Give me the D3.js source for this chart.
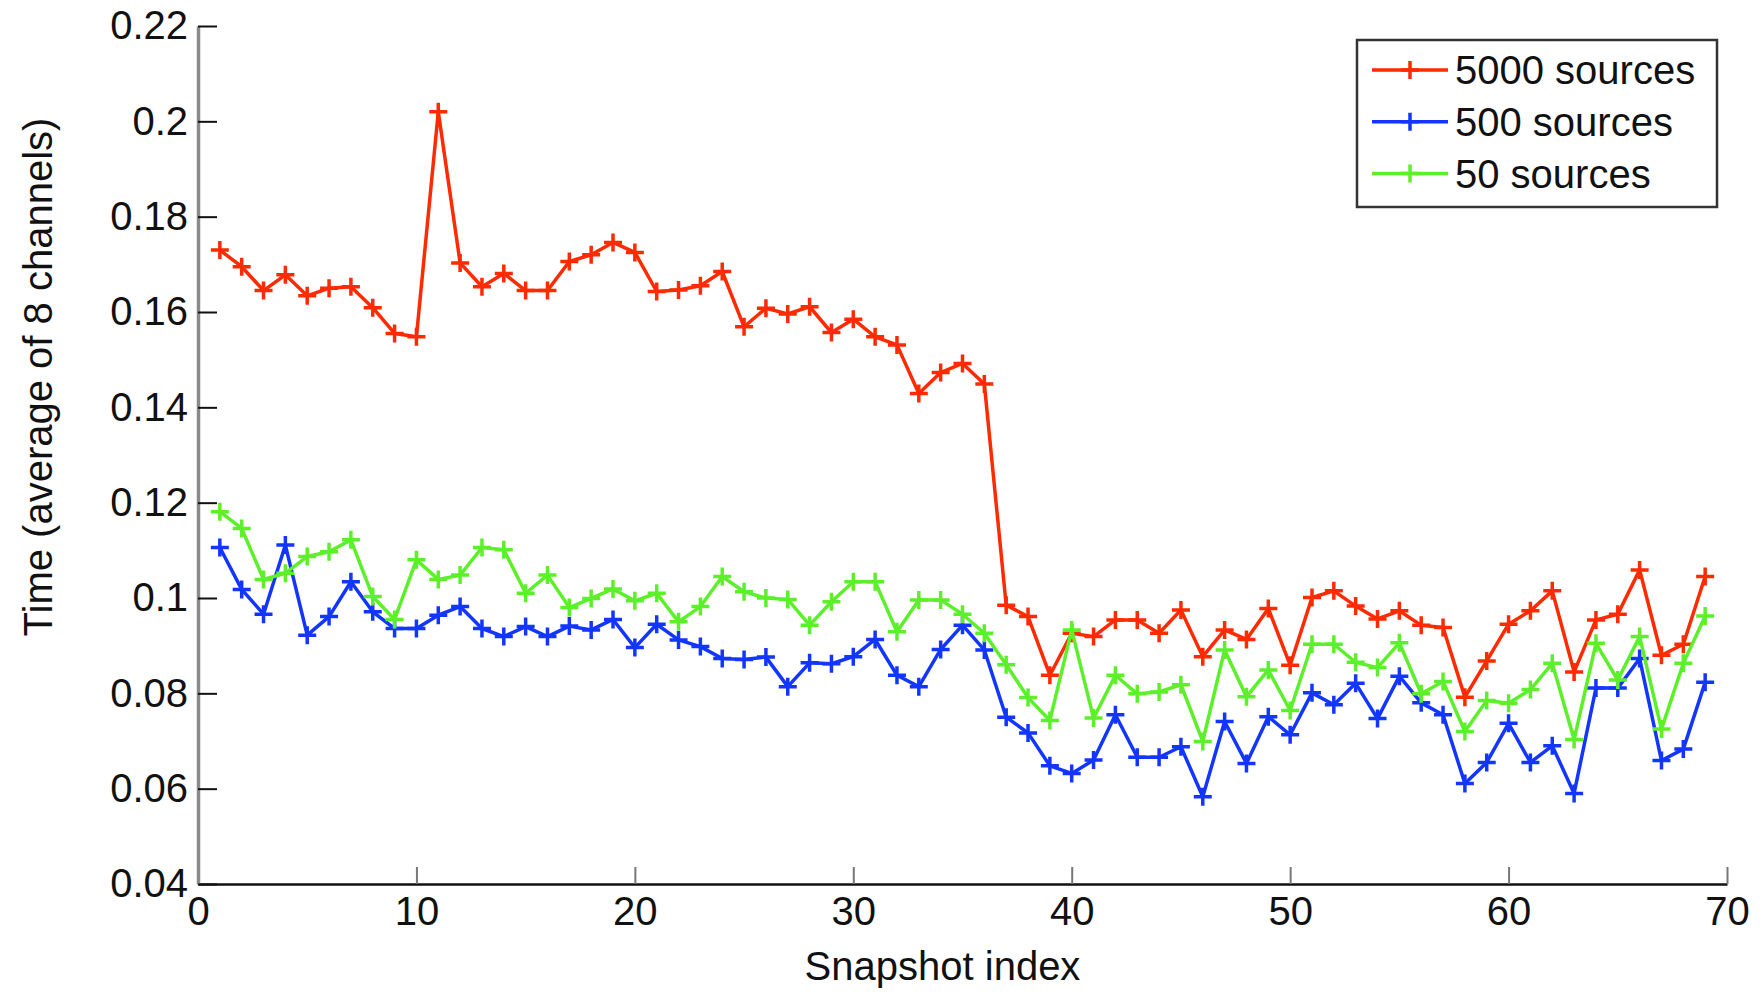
<!DOCTYPE html>
<html>
<head>
<meta charset="utf-8">
<script src="https://cdn.jsdelivr.net/npm/d3@7"></script>
<style>
  body { margin: 0; background: #fff; }
  text { font-family: "Liberation Sans", Arial, sans-serif; }
</style>
</head>
<body>
<div class="canvas"></div>
<script>
// values, snapshot index 1..69
const src5000 = [0.1730, 0.1695, 0.1645, 0.1678, 0.1634, 0.1650, 0.1653, 0.1609, 0.1555, 0.1548,
  0.2020, 0.1703, 0.1653, 0.1681, 0.1645, 0.1645, 0.1706, 0.1720, 0.1746, 0.1725,
  0.1643, 0.1646, 0.1655, 0.1685, 0.1569, 0.1608, 0.1596, 0.1611, 0.1557, 0.1585,
  0.1548, 0.1531, 0.1429, 0.1473, 0.1492, 0.1449, 0.0985, 0.0961, 0.0838, 0.0926,
  0.0919, 0.0954, 0.0954, 0.0926, 0.0975, 0.0877, 0.0933, 0.0913, 0.0978, 0.0859,
  0.1001, 0.1015, 0.0983, 0.0956, 0.0973, 0.0943, 0.0938, 0.0792, 0.0868, 0.0945,
  0.0973, 0.1015, 0.0845, 0.0954, 0.0966, 0.1059, 0.0880, 0.0903, 0.1045];

const src500 = [0.1106, 0.1018, 0.0966, 0.1111, 0.0922, 0.0961, 0.1034, 0.0971, 0.0936, 0.0936,
  0.0964, 0.0982, 0.0936, 0.0919, 0.0940, 0.0919, 0.0941, 0.0933, 0.0955, 0.0896,
  0.0945, 0.0912, 0.0898, 0.0873, 0.0871, 0.0876, 0.0814, 0.0864, 0.0862, 0.0877,
  0.0913, 0.0838, 0.0814, 0.0892, 0.0943, 0.0891, 0.0750, 0.0717, 0.0648, 0.0632,
  0.0660, 0.0755, 0.0666, 0.0666, 0.0688, 0.0583, 0.0741, 0.0653, 0.0751, 0.0713,
  0.0801, 0.0776, 0.0821, 0.0747, 0.0836, 0.0780, 0.0755, 0.0611, 0.0655, 0.0737,
  0.0655, 0.0690, 0.0590, 0.0811, 0.0811, 0.0873, 0.0659, 0.0683, 0.0823];

const src50 = [0.1181, 0.1146, 0.1039, 0.1052, 0.1087, 0.1097, 0.1122, 0.1003, 0.0955, 0.1080,
  0.1039, 0.1048, 0.1106, 0.1101, 0.1010, 0.1048, 0.0980, 0.0999, 0.1019, 0.0994,
  0.1010, 0.0950, 0.0982, 0.1045, 0.1013, 0.1000, 0.0997, 0.0943, 0.0992, 0.1034,
  0.1034, 0.0929, 0.0996, 0.0996, 0.0966, 0.0926, 0.0860, 0.0791, 0.0743, 0.0933,
  0.0748, 0.0838, 0.0799, 0.0803, 0.0818, 0.0699, 0.0891, 0.0793, 0.0849, 0.0764,
  0.0903, 0.0903, 0.0865, 0.0854, 0.0906, 0.0799, 0.0825, 0.0720, 0.0785, 0.0779,
  0.0808, 0.0863, 0.0703, 0.0905, 0.0828, 0.0919, 0.0725, 0.0863, 0.0962];

const seriesNames = ["5000 sources", "500 sources", "50 sources"];
const seriesColors = ["#ff2a00", "#1236ff", "#5cf02a"];
const xTicks = [0, 10, 20, 30, 40, 50, 60, 70];
const yTicks = [0.04, 0.06, 0.08, 0.1, 0.12, 0.14, 0.16, 0.18, 0.2, 0.22];
const yTickLabels = ["0.04", "0.06", "0.08", "0.1", "0.12", "0.14", "0.16", "0.18", "0.2", "0.22"];

const width = 1763;
const height = 992;
const plotLeft = 198, plotRight = 1727, plotTop = 26, plotBottom = 884;
const fontSize = 40;

const svg = d3.select(".canvas").append("svg")
  .attr("width", width)
  .attr("height", height);

const x = d3.scaleLinear().domain([0, 70]).range([plotLeft, plotRight]);
const y = d3.scaleLinear().domain([0.04, 0.22]).range([plotBottom, plotTop]);

// axes, matlab style ticks pointing inward
const xAxis = svg.append("g")
  .attr("transform", `translate(0,${plotBottom})`)
  .call(d3.axisBottom(x).tickValues(xTicks).tickSizeInner(-17).tickSizeOuter(0).tickPadding(13));
xAxis.select(".domain").attr("stroke", "#111").attr("stroke-width", 2.5);
xAxis.selectAll(".tick line").attr("stroke", "#777").attr("stroke-width", 2);
xAxis.selectAll("text").attr("font-size", fontSize).attr("fill", "#111");

const yAxis = svg.append("g")
  .attr("transform", `translate(${plotLeft},0)`)
  .call(d3.axisLeft(y).tickValues(yTicks)
    .tickFormat((d, i) => yTickLabels[i])
    .tickSizeInner(-19).tickSizeOuter(0).tickPadding(10));
yAxis.select(".domain").attr("stroke", "#8a8a8a").attr("stroke-width", 3.5);
yAxis.selectAll(".tick line").attr("stroke", "#111").attr("stroke-width", 2);
yAxis.selectAll("text").attr("font-size", fontSize).attr("fill", "#111");

// axis titles
svg.append("text")
  .attr("x", (plotLeft + plotRight) / 2 - 20)
  .attr("y", 980)
  .attr("text-anchor", "middle")
  .attr("font-size", fontSize)
  .attr("fill", "#111")
  .text("Snapshot index");

svg.append("text")
  .attr("transform", `translate(52,${(plotTop + plotBottom) / 2 - 78}) rotate(-90)`)
  .attr("text-anchor", "middle")
  .attr("font-size", fontSize)
  .attr("fill", "#111")
  .text("Time (average of 8 channels)");

// lines + '+' markers
const allSeries = [src5000, src500, src50];
const line = d3.line()
  .x((d, i) => x(i + 1))
  .y(d => y(d));
const plus = "M-9,0H9M0,-9V9";

allSeries.forEach((values, k) => {
  svg.append("path")
    .datum(values)
    .attr("fill", "none")
    .attr("stroke", seriesColors[k])
    .attr("stroke-width", 3.5)
    .attr("stroke-linejoin", "round")
    .attr("d", line);

  svg.append("g").selectAll("path")
    .data(values)
    .join("path")
    .attr("transform", (d, i) => `translate(${x(i + 1)},${y(d)})`)
    .attr("d", plus)
    .attr("stroke", seriesColors[k])
    .attr("stroke-width", 3.5);
});

// legend
const legend = svg.append("g").attr("transform", "translate(1357,40)");
legend.append("rect")
  .attr("width", 360)
  .attr("height", 167)
  .attr("fill", "#fff")
  .attr("stroke", "#333")
  .attr("stroke-width", 2.5);

seriesNames.forEach((name, k) => {
  const ly = 30 + k * 51.7;
  legend.append("line")
    .attr("x1", 15).attr("x2", 91)
    .attr("y1", ly).attr("y2", ly)
    .attr("stroke", seriesColors[k])
    .attr("stroke-width", 3.5);
  legend.append("path")
    .attr("transform", `translate(53,${ly})`)
    .attr("d", plus)
    .attr("stroke", seriesColors[k])
    .attr("stroke-width", 3.5);
  legend.append("text")
    .attr("x", 98)
    .attr("y", ly)
    .attr("dy", "0.36em")
    .attr("font-size", fontSize)
    .attr("fill", "#111")
    .text(name);
});
</script>
</body>
</html>
